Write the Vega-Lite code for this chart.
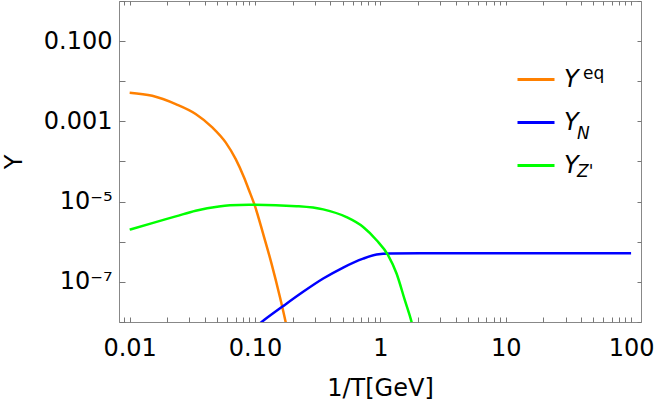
{
  "$schema": "https://vega.github.io/schema/vega-lite/v6.json",
  "autosize": "none",
  "width": 522,
  "height": 321,
  "padding": {"left": 119, "top": 1, "right": 13, "bottom": 85},
  "background": "white",
  "config": {
    "view": {"stroke": null},
    "font": "DejaVu Sans",
    "axis": {
      "labelFont": "DejaVu Sans",
      "titleFont": "DejaVu Sans",
      "labelFontSize": 24,
      "titleFontSize": 24,
      "titleFontWeight": "normal",
      "labelColor": "black",
      "titleColor": "black",
      "domainColor": "#888888",
      "grid": false,
      "labelFlush": false,
      "labelOverlap": false
    },
    "legend": {"labelFont": "DejaVu Sans", "labelColor": "black"}
  },
  "data": {
    "values": [
      {"series": "Yeq", "x": 0.01, "y": 0.0052},
      {"series": "Yeq", "x": 0.01514, "y": 0.00435},
      {"series": "Yeq", "x": 0.0233, "y": 0.0027},
      {"series": "Yeq", "x": 0.0336, "y": 0.00153},
      {"series": "Yeq", "x": 0.0456, "y": 0.00071},
      {"series": "Yeq", "x": 0.0583, "y": 0.0003},
      {"series": "Yeq", "x": 0.07, "y": 0.000116},
      {"series": "Yeq", "x": 0.0816, "y": 0.0000406},
      {"series": "Yeq", "x": 0.0894, "y": 0.0000195},
      {"series": "Yeq", "x": 0.0998, "y": 0.0000078},
      {"series": "Yeq", "x": 0.116, "y": 0.00000159},
      {"series": "Yeq", "x": 0.1354, "y": 0.000000286},
      {"series": "Yeq", "x": 0.158, "y": 0.000000042},
      {"series": "Yeq", "x": 0.1755, "y": 0.00000001},
      {"series": "Yeq", "x": 0.19, "y": 0.000000003},
      {"series": "YN", "x": 0.105, "y": 0.0000000083},
      {"series": "YN", "x": 0.113, "y": 0.00000001},
      {"series": "YN", "x": 0.168, "y": 0.000000025},
      {"series": "YN", "x": 0.242, "y": 0.0000000565},
      {"series": "YN", "x": 0.35, "y": 0.000000121},
      {"series": "YN", "x": 0.505, "y": 0.000000228},
      {"series": "YN", "x": 0.729, "y": 0.00000038},
      {"series": "YN", "x": 0.933, "y": 0.00000048},
      {"series": "YN", "x": 1.19, "y": 0.000000512},
      {"series": "YN", "x": 2.07, "y": 0.000000515},
      {"series": "YN", "x": 10, "y": 0.000000515},
      {"series": "YN", "x": 100, "y": 0.000000515},
      {"series": "YZ", "x": 0.01, "y": 0.000002},
      {"series": "YZ", "x": 0.01514, "y": 0.00000292},
      {"series": "YZ", "x": 0.0233, "y": 0.00000428},
      {"series": "YZ", "x": 0.0336, "y": 0.00000595},
      {"series": "YZ", "x": 0.0515, "y": 0.0000076},
      {"series": "YZ", "x": 0.0631, "y": 0.0000081},
      {"series": "YZ", "x": 0.0894, "y": 0.0000084},
      {"series": "YZ", "x": 0.0998, "y": 0.0000084},
      {"series": "YZ", "x": 0.2148, "y": 0.0000077},
      {"series": "YZ", "x": 0.35, "y": 0.0000064},
      {"series": "YZ", "x": 0.537, "y": 0.0000041},
      {"series": "YZ", "x": 0.729, "y": 0.00000233},
      {"series": "YZ", "x": 0.933, "y": 0.00000109},
      {"series": "YZ", "x": 1.154, "y": 0.00000046},
      {"series": "YZ", "x": 1.346, "y": 0.000000162},
      {"series": "YZ", "x": 1.567, "y": 0.000000035},
      {"series": "YZ", "x": 1.774, "y": 0.00000001},
      {"series": "YZ", "x": 1.9, "y": 0.000000004}
    ]
  },
  "resolve": {"axis": {"x": "independent", "y": "independent"}},
  "layer": [
    {
      "mark": {"type": "line", "clip": true, "strokeWidth": 2.5, "interpolate": "monotone"},
      "encoding": {
        "x": {
          "field": "x", "type": "quantitative",
          "scale": {"type": "log", "domain": [0.00822, 120], "nice": false},
          "axis": {
            "orient": "bottom",
            "title": "1/T[GeV]",
            "values": [0.01, 0.1, 1, 10, 100],
            "labelExpr": "datum.value == 0.01 ? '0.01' : datum.value == 0.1 ? '0.10' : datum.value == 1 ? '1' : datum.value == 10 ? '10' : '100'",
            "ticks": false,
            "labelPadding": 14,
            "titlePadding": 16
          }
        },
        "y": {
          "field": "y", "type": "quantitative",
          "scale": {"type": "log", "domain": [1e-8, 1], "nice": false},
          "axis": {
            "orient": "left",
            "title": "Y",
            "values": [1e-7, 1e-5, 1e-3, 1e-1],
            "labelExpr": "datum.value == 0.1 ? '0.100' : datum.value == 0.001 ? '0.001' : datum.value == 0.00001 ? '10⁻⁵' : '10⁻⁷'",
            "ticks": false,
            "labelPadding": 7,
            "titlePadding": 17
          }
        },
        "color": {
          "field": "series", "type": "nominal",
          "scale": {"domain": ["Yeq", "YN", "YZ"], "range": ["#ff8000", "#0000ff", "#00ff00"]},
          "legend": {
            "orient": "none", "legendX": 397, "legendY": 58.5, "title": null,
            "symbolType": "stroke", "symbolSize": 1369, "symbolStrokeWidth": 3,
            "labelFontSize": 24, "labelFontStyle": "italic", "labelOffset": 8,
            "rowPadding": 11, "padding": 0, "labelExpr": "'Y'"
          }
        }
      }
    },
    {
      "mark": {"type": "point", "opacity": 0, "clip": true},
      "encoding": {
        "x": {
          "field": "x", "type": "quantitative",
          "axis": {"orient": "top", "title": null, "labels": false, "ticks": false}
        },
        "y": {
          "field": "y", "type": "quantitative",
          "axis": {"orient": "right", "title": null, "labels": false, "ticks": false}
        },
        "shape": {
          "field": "series", "type": "nominal",
          "scale": {"domain": ["Yeq"]},
          "legend": {
            "orient": "none", "legendX": 397, "legendY": 54.5, "title": null,
            "symbolType": "stroke", "symbolSize": 1369, "symbolOpacity": 0, "symbolStrokeWidth": 0,
            "labelFontSize": 17, "labelOffset": 30, "padding": 0, "labelExpr": "'eq'"
          }
        }
      }
    },
    {
      "mark": {"type": "line", "opacity": 0, "clip": true},
      "encoding": {
        "x": {
          "field": "x", "type": "quantitative",
          "axis": {
            "orient": "bottom", "title": null, "labels": false, "domain": false, "zindex": 2,
            "ticks": true, "tickSize": -5, "tickColor": "#777777", "tickWidth": 1,
            "values": [0.009, 0.01, 0.02, 0.03, 0.04, 0.05, 0.06, 0.07, 0.08, 0.09, 0.1, 0.2, 0.3, 0.4, 0.5, 0.6, 0.7, 0.8, 0.9, 1, 2, 3, 4, 5, 6, 7, 8, 9, 10, 20, 30, 40, 50, 60, 70, 80, 90, 100]
          }
        },
        "y": {
          "field": "y", "type": "quantitative",
          "axis": {
            "orient": "left", "title": null, "labels": false, "domain": false, "zindex": 2,
            "ticks": true, "tickSize": -6, "tickColor": "#777777", "tickWidth": 1,
            "values": [1e-8, 1e-7, 1e-6, 1e-5, 1e-4, 1e-3, 1e-2, 1e-1, 1]
          }
        },
        "strokeDash": {
          "field": "series", "type": "nominal",
          "scale": {"domain": ["YN", "YZ"]},
          "legend": {
            "orient": "none", "legendX": 397, "legendY": 114.5, "title": null,
            "symbolType": "stroke", "symbolSize": 1369, "symbolOpacity": 0, "symbolStrokeWidth": 0,
            "labelFontSize": 17, "labelFontStyle": "italic", "labelOffset": 24,
            "rowPadding": 11, "padding": 0,
            "labelExpr": "datum.label == 'YN' ? 'N' : \"Z'\""
          }
        }
      }
    },
    {
      "mark": {"type": "point", "opacity": 0, "clip": true},
      "encoding": {
        "x": {
          "field": "x", "type": "quantitative",
          "axis": {
            "orient": "top", "title": null, "labels": false, "domain": false, "zindex": 2,
            "ticks": true, "tickSize": -4, "tickColor": "#777777", "tickWidth": 1,
            "values": [0.009, 0.01, 0.02, 0.03, 0.04, 0.05, 0.06, 0.07, 0.08, 0.09, 0.1, 0.2, 0.3, 0.4, 0.5, 0.6, 0.7, 0.8, 0.9, 1, 2, 3, 4, 5, 6, 7, 8, 9, 10, 20, 30, 40, 50, 60, 70, 80, 90, 100]
          }
        },
        "y": {
          "field": "y", "type": "quantitative",
          "axis": {
            "orient": "right", "title": null, "labels": false, "domain": false, "zindex": 2,
            "ticks": true, "tickSize": -4, "tickColor": "#777777", "tickWidth": 1,
            "values": [1e-8, 1e-7, 1e-6, 1e-5, 1e-4, 1e-3, 1e-2, 1e-1, 1]
          }
        }
      }
    }
  ]
}
